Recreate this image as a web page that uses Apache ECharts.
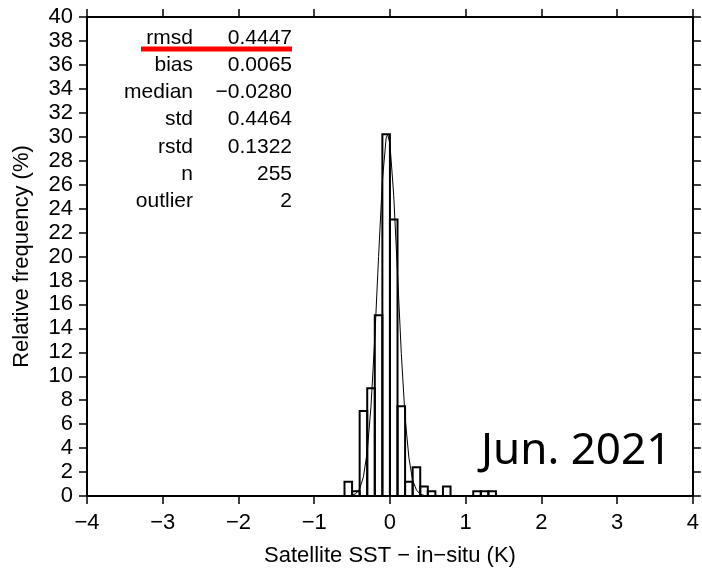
<!DOCTYPE html>
<html>
<head>
<meta charset="utf-8">
<script src="https://cdn.jsdelivr.net/npm/echarts@6/dist/echarts.min.js"></script>
<style>
  html, body { margin: 0; padding: 0; background: #fff; }
  #chart { width: 702px; height: 577px; }
</style>
</head>
<body>
<div id="chart"></div>
<script>
// histogram bins (K) and relative frequency (%)
const binStart = [-0.6, -0.5, -0.4, -0.3, -0.2, -0.1, 0.0, 0.1, 0.2, 0.3, 0.4, 0.5, 0.7, 1.1, 1.2, 1.3]
const binPct   = [1.2, 0.4, 7.1, 9.0, 15.1, 30.2, 23.1, 7.5, 1.2, 2.4, 0.8, 0.4, 0.8, 0.4, 0.4, 0.4]
const binWidth = 0.1

// fitted curve
const curveX = [-0.6, -0.5, -0.45, -0.4, -0.35, -0.3, -0.25, -0.2, -0.15, -0.1, -0.05, -0.03, 0.0, 0.05, 0.1, 0.15, 0.2, 0.25, 0.3, 0.35, 0.4, 0.45, 0.5, 0.6]
const curveY = [0, 0.05, 0.2, 0.6, 1.6, 3.7, 7.5, 13.2, 20.0, 26.3, 29.9, 30.2, 29.4, 25.1, 18.6, 11.9, 6.6, 3.2, 1.3, 0.5, 0.15, 0.05, 0, 0]

// stats panel
const statNames  = ['rmsd', 'bias', 'median', 'std', 'rstd', 'n', 'outlier']
const statValues = ['0.4447', '0.0065', '\u22120.0280', '0.4464', '0.1322', '255', '2']
const periodLabel = 'Jun. 2021'

const FONT = "'Liberation Sans', Arial, sans-serif"
const minus = (v) => String(v).replace('-', '\u2212')

const chart = echarts.init(document.getElementById('chart'))

const graphics = []
statNames.forEach((name, i) => {
  const y = 38 + i * 27.2
  graphics.push({
    type: 'text', x: 193, y: y,
    style: { text: name, font: '21px ' + FONT, fill: '#000', align: 'right', verticalAlign: 'middle' }
  })
  graphics.push({
    type: 'text', x: 292, y: y,
    style: { text: statValues[i], font: '21px ' + FONT, fill: '#000', align: 'right', verticalAlign: 'middle' }
  })
})
graphics.push({
  type: 'line',
  shape: { x1: 141, y1: 49, x2: 292, y2: 49 },
  style: { stroke: '#ff0000', lineWidth: 5 },
  z: 10
})
graphics.push({
  type: 'text', x: 481, y: 451,
  style: { text: periodLabel, font: "44px 'Noto Sans', 'Open Sans', sans-serif", fill: '#000', align: 'left', verticalAlign: 'middle' }
})

const axisCommon = {
  type: 'value',
  axisLine: { show: true, onZero: false, lineStyle: { color: '#000', width: 2 } },
  axisTick: { show: true, inside: false, length: 8, lineStyle: { color: '#000', width: 1.5 } },
  splitLine: { show: false }
}

const option = {
  backgroundColor: '#fff',
  animation: false,
  grid: { left: 87, right: 6, top: 17, bottom: 81, containLabel: false },
  xAxis: [
    Object.assign({}, axisCommon, {
      min: -4, max: 4, interval: 1, position: 'bottom',
      axisLabel: { color: '#000', fontSize: 22, fontFamily: FONT, margin: 16, formatter: minus },
      name: 'Satellite SST \u2212 in\u2212situ (K)',
      nameLocation: 'middle', nameGap: 49,
      nameTextStyle: { color: '#000', fontSize: 22, fontFamily: FONT }
    }),
    Object.assign({}, axisCommon, {
      min: -4, max: 4, interval: 1, position: 'top',
      axisLabel: { show: false }
    })
  ],
  yAxis: [
    Object.assign({}, axisCommon, {
      min: 0, max: 40, interval: 2, position: 'left',
      axisLabel: { color: '#000', fontSize: 22, fontFamily: FONT, margin: 14 },
      name: 'Relative frequency (%)',
      nameLocation: 'middle', nameGap: 54,
      nameTextStyle: { color: '#000', fontSize: 22, fontFamily: FONT }
    }),
    Object.assign({}, axisCommon, {
      min: 0, max: 40, interval: 2, position: 'right',
      axisLabel: { show: false }
    })
  ],
  graphic: graphics,
  series: [
    {
      type: 'custom',
      xAxisIndex: 0, yAxisIndex: 0,
      data: binStart.map((x, i) => [x, x + binWidth, binPct[i]]),
      renderItem: (params, api) => {
        const p0 = api.coord([api.value(0), 0])
        const p1 = api.coord([api.value(1), api.value(2)])
        return {
          type: 'rect',
          shape: { x: p0[0], y: p1[1], width: p1[0] - p0[0], height: p0[1] - p1[1] },
          style: { fill: 'none', stroke: '#000', lineWidth: 2 }
        }
      },
      z: 3
    },
    {
      type: 'line',
      xAxisIndex: 0, yAxisIndex: 0,
      data: curveX.map((x, i) => [x, curveY[i]]),
      showSymbol: false,
      smooth: false,
      lineStyle: { color: '#000', width: 1 },
      z: 4
    }
  ]
}

chart.setOption(option)
</script>
</body>
</html>
